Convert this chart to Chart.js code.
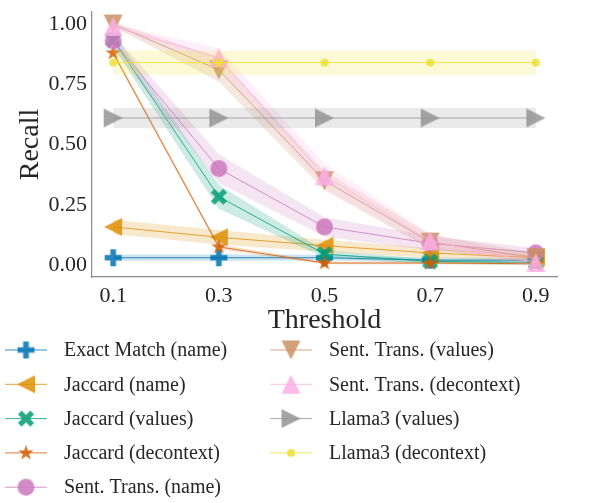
<!DOCTYPE html>
<html>
<head>
<meta charset="utf-8">
<script src="https://cdn.jsdelivr.net/npm/chart.js@4.4.1/dist/chart.umd.min.js"></script>
<style>
html, body { margin: 0; padding: 0; background: #fff; }
canvas { display: block; }
</style>
</head>
<body>
<canvas id="chart" width="589" height="503"></canvas>
<script>
const thresholds = [0.1, 0.3, 0.5, 0.7, 0.9];
const yTicks = [0, 0.25, 0.5, 0.75, 1.0];

const seriesNames = [
    'Exact Match (name)', 'Jaccard (name)', 'Jaccard (values)', 'Jaccard (decontext)',
    'Sent. Trans. (name)', 'Sent. Trans. (values)', 'Sent. Trans. (decontext)',
    'Llama3 (values)', 'Llama3 (decontext)'
];

// mean recall and half width of the shaded band
const exactName = [0.03, 0.03, 0.03, 0.02, 0.02];
const exactNameErr = [0.013, 0.013, 0.012, 0.01, 0.01];
const jaccardName = [0.158, 0.115, 0.08, 0.05, 0.03];
const jaccardNameErr = [0.03, 0.03, 0.025, 0.02, 0.015];
const jaccardValues = [0.935, 0.283, 0.045, 0.015, 0.01];
const jaccardValuesErr = [0.03, 0.05, 0.015, 0.01, 0.01];
const jaccardDecontext = [0.88, 0.075, 0.008, 0.008, 0.005];
const jaccardDecontextErr = [0.01, 0.01, 0.005, 0.005, 0.005];
const sentName = [0.93, 0.40, 0.158, 0.09, 0.05];
const sentNameErr = [0.03, 0.06, 0.04, 0.03, 0.02];
const sentValues = [1.0, 0.81, 0.35, 0.095, 0.03];
const sentValuesErr = [0.01, 0.05, 0.04, 0.03, 0.02];
const sentDecontext = [0.99, 0.86, 0.37, 0.10, 0.01];
const sentDecontextErr = [0.01, 0.04, 0.05, 0.03, 0.02];
const llamaValues = [0.61, 0.61, 0.61, 0.61, 0.61];
const llamaValuesErr = [0.042, 0.042, 0.042, 0.042, 0.042];
const llamaDecontext = [0.84, 0.84, 0.84, 0.84, 0.84];
const llamaDecontextErr = [0.05, 0.05, 0.05, 0.05, 0.05];

const means = [exactName, jaccardName, jaccardValues, jaccardDecontext, sentName,
    sentValues, sentDecontext, llamaValues, llamaDecontext];
const errs = [exactNameErr, jaccardNameErr, jaccardValuesErr, jaccardDecontextErr, sentNameErr,
    sentValuesErr, sentDecontextErr, llamaValuesErr, llamaDecontextErr];

const colors = ['1,115,178', '222,143,5', '2,158,115', '213,94,0', '204,120,188',
    '202,145,97', '251,175,228', '148,148,148', '236,225,51'];
const shapes = ['P', '<', 'X', '*', 'o', 'v', '^', '>', '.'];
const sizes = [17, 18, 16, 16, 17, 19, 19, 19, 8];

const serif = '"Liberation Serif", "DejaVu Serif", serif';
const textColor = '#262626';


function marker(shape, color, size) {
    const c = document.createElement('canvas');
    const s = Math.ceil(size) + 4;
    c.width = s; c.height = s;
    const g = c.getContext('2d');
    g.translate(s / 2, s / 2);
    g.fillStyle = color;
    const r = size / 2;
    const w = size / 6;
    g.beginPath();
    if (shape === 'P' || shape === 'X') {
        if (shape === 'X') g.rotate(Math.PI / 4);
        const a = shape === 'X' ? r * 1.1 : r;
        g.moveTo(-w, -a); g.lineTo(w, -a); g.lineTo(w, -w); g.lineTo(a, -w);
        g.lineTo(a, w); g.lineTo(w, w); g.lineTo(w, a); g.lineTo(-w, a);
        g.lineTo(-w, w); g.lineTo(-a, w); g.lineTo(-a, -w); g.lineTo(-w, -w);
    } else if (shape === '<') {
        g.moveTo(-r, 0); g.lineTo(r, -r); g.lineTo(r, r);
    } else if (shape === '>') {
        g.moveTo(r, 0); g.lineTo(-r, -r); g.lineTo(-r, r);
    } else if (shape === '^') {
        g.moveTo(0, -r); g.lineTo(r, r); g.lineTo(-r, r);
    } else if (shape === 'v') {
        g.moveTo(0, r); g.lineTo(r, -r); g.lineTo(-r, -r);
    } else if (shape === '*') {
        for (let k = 0; k < 10; k++) {
            const rr = k % 2 === 0 ? r : r * 0.4;
            const ang = -Math.PI / 2 + k * Math.PI / 5;
            g.lineTo(rr * Math.cos(ang), rr * Math.sin(ang));
        }
    } else {
        g.arc(0, 0, r, 0, Math.PI * 2);
    }
    g.closePath();
    g.fill();
    return c;
}

const markers = shapes.map((s, i) => marker(s, 'rgba(' + colors[i] + ',0.85)', sizes[i]));

const datasets = [];
means.forEach((m, i) => {
    const base = i * 3;
    datasets.push({
        label: seriesNames[i] + ' upper',
        data: thresholds.map((x, j) => ({x: x, y: m[j] + errs[i][j]})),
        borderColor: 'transparent',
        pointRadius: 0,
        fill: false,
        order: 100 - base
    });
    datasets.push({
        label: seriesNames[i] + ' lower',
        data: thresholds.map((x, j) => ({x: x, y: m[j] - errs[i][j]})),
        borderColor: 'transparent',
        backgroundColor: 'rgba(' + colors[i] + ',0.2)',
        pointRadius: 0,
        fill: '-1',
        order: 100 - base - 1
    });
    datasets.push({
        label: seriesNames[i],
        data: thresholds.map((x, j) => ({x: x, y: m[j]})),
        borderColor: 'rgba(' + colors[i] + ',0.8)',
        borderWidth: 1,
        pointStyle: markers[i],
        pointRadius: 8,
        fill: false,
        order: 100 - base - 2
    });
});


const legendPlugin = {
    id: 'twoColumnLegend',
    afterDraw(chart) {
        const ctx = chart.ctx;
        ctx.save();
        ctx.font = '20px ' + serif;
        ctx.textBaseline = 'middle';
        seriesNames.forEach((name, i) => {
            const col = i < 5 ? 0 : 1;
            const row = i < 5 ? i : i - 5;
            const x0 = col === 0 ? 5 : 270;
            const y = 350 + row * 34.3;
            ctx.strokeStyle = 'rgba(' + colors[i] + ',0.8)';
            ctx.lineWidth = 1;
            ctx.beginPath();
            ctx.moveTo(x0, y); ctx.lineTo(x0 + 42, y);
            ctx.stroke();
            const mk = markers[i];
            ctx.drawImage(mk, x0 + 21 - mk.width / 2, y - mk.height / 2);
            ctx.fillStyle = textColor;
            ctx.fillText(name, x0 + 59, y + 1);
        });
        ctx.restore();
    }
};


const config = {
    type: 'line',
    data: {datasets: datasets},
    options: {
        responsive: false,
        animation: false,
        devicePixelRatio: 1,
        layout: {padding: {top: 12, right: 32, bottom: 166, left: 0}},
        plugins: {
            legend: {display: false},
            tooltip: {enabled: false}
        },
        scales: {
            x: {
                type: 'linear',
                min: 0.06,
                max: 0.94,
                grid: {display: false, drawTicks: false},
                border: {display: true, color: '#8c8c8c', width: 1.2},
                ticks: {
                    color: textColor,
                    padding: 6,
                    font: {family: serif, size: 22},
                    callback: v => v.toFixed(1)
                },
                afterBuildTicks: s => { s.ticks = thresholds.map(v => ({value: v})); },
                afterFit: s => { s.height = 60; s.paddingLeft = 0; s.paddingRight = 0; },
                title: {
                    display: true,
                    text: 'Threshold',
                    color: textColor,
                    padding: 0,
                    font: {family: serif, size: 28}
                }
            },
            y: {
                type: 'linear',
                min: -0.05,
                max: 1.05,
                grid: {display: false, drawTicks: false},
                border: {display: true, color: '#8c8c8c', width: 1.2},
                ticks: {
                    color: textColor,
                    padding: 5,
                    font: {family: serif, size: 22},
                    callback: v => v.toFixed(2)
                },
                afterBuildTicks: s => { s.ticks = yTicks.map(v => ({value: v})); },
                afterFit: s => { s.width = 92; s.paddingTop = 0; s.paddingBottom = 0; },
                title: {
                    display: true,
                    text: 'Recall',
                    color: textColor,
                    padding: 14,
                    font: {family: serif, size: 28}
                }
            }
        }
    },
    plugins: [legendPlugin]
};

const recallChart = new Chart(document.getElementById('chart'), config);
</script>
</body>
</html>
